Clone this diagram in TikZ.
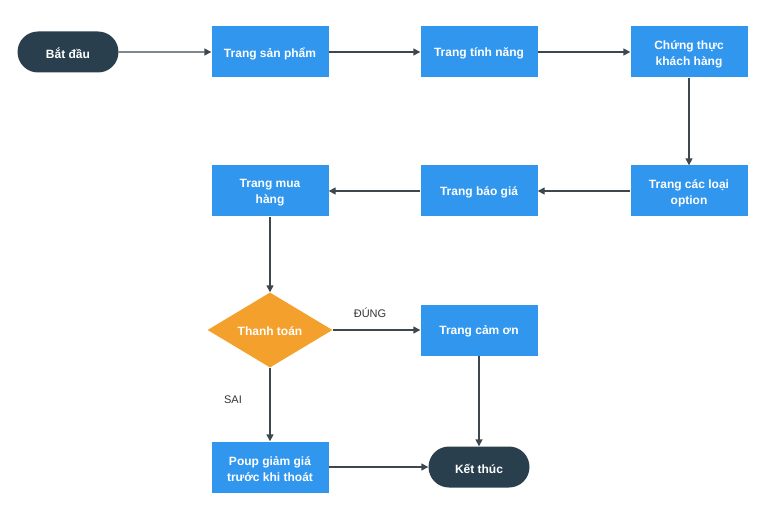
\documentclass[tikz,border=0pt]{standalone}
\usepackage{fontspec}
\setmainfont{Liberation Sans}
\usetikzlibrary{shapes.geometric,shapes.misc,arrows.meta}
\definecolor{boxblue}{HTML}{3096EE}
\definecolor{darknode}{HTML}{2A3F4E}
\definecolor{orangec}{HTML}{F4A02C}
\definecolor{linec}{HTML}{3C4750}
\begin{document}
\begin{tikzpicture}[x=1pt,y=-1pt,
  every node/.style={inner sep=0pt},
  txt/.style={font=\fontsize{12}{16}\selectfont\bfseries, text=white, align=center},
  procbox/.style={rectangle, fill=boxblue, minimum width=117pt, minimum height=51pt},
  terminal/.style={rounded rectangle, fill=darknode, minimum width=101pt, minimum height=41pt},
  decision/.style={diamond, fill=orangec, minimum width=125pt, minimum height=75pt, aspect=1.67},
  conn/.style={draw=linec, line width=1.4pt, -{Triangle[length=7pt,width=7pt]}},
  lbl/.style={font=\fontsize{11}{13}\selectfont, text=black!80}
]
\useasboundingbox (0,0) rectangle (768,513);
\fill[white] (0,0) rectangle (768,513);
\node[terminal] (start) at (68,52) {};
\node[procbox] (sp) at (270,52) {};
\node[procbox] (tn) at (479,52) {};
\node[procbox] (ct) at (689,52) {};
\node[procbox] (opt) at (689,191) {};
\node[procbox] (bg) at (479,191) {};
\node[procbox] (mh) at (270,191) {};
\node[decision] (tt) at (270,330) {};
\node[procbox] (co) at (479,330) {};
\node[procbox] (pp) at (270,467) {};
\node[terminal] (end) at (479,467) {};

\node[txt] (start-t) at ([yshift=-1.5pt]start.center) {Bắt đầu};
\node[txt] (sp-t) at ([yshift=-1.5pt]sp.center) {Trang sản phẩm};
\node[txt] (tn-t) at ([yshift=-1.5pt]tn.center) {Trang tính năng};
\node[txt] (ct-t) at ([yshift=-2pt]ct.center) {Chứng thực\\khách hàng};
\node[txt] (opt-t) at ([yshift=-2pt]opt.center) {Trang các loại\\option};
\node[txt] (bg-t) at ([yshift=-1.5pt]bg.center) {Trang báo giá};
\node[txt] (mh-t) at ([yshift=-2pt]mh.center) {Trang mua\\hàng};
\node[txt] (tt-t) at ([yshift=-1.5pt]tt.center) {Thanh toán};
\node[txt] (co-t) at ([yshift=-1.5pt]co.center) {Trang cảm ơn};
\node[txt] (pp-t) at ([yshift=-2pt]pp.center) {Poup giảm giá\\trước khi thoát};
\node[txt] (end-t) at ([yshift=-1.5pt]end.center) {Kết thúc};

\draw[conn] (start) -- (sp);
\draw[conn] (sp) -- (tn);
\draw[conn] (tn) -- (ct);
\draw[conn] (ct) -- (opt);
\draw[conn] (opt) -- (bg);
\draw[conn] (bg) -- (mh);
\draw[conn] (mh) -- (tt);
\draw[conn] (tt) -- (co);
\draw[conn] (tt) -- (pp);
\draw[conn] (pp) -- (end);
\draw[conn] (co) -- (end);
\node[lbl] (dung) at (370,313) {ĐÚNG};
\node[lbl] (sai) at (233,400) {SAI};
\end{tikzpicture}
\end{document}
